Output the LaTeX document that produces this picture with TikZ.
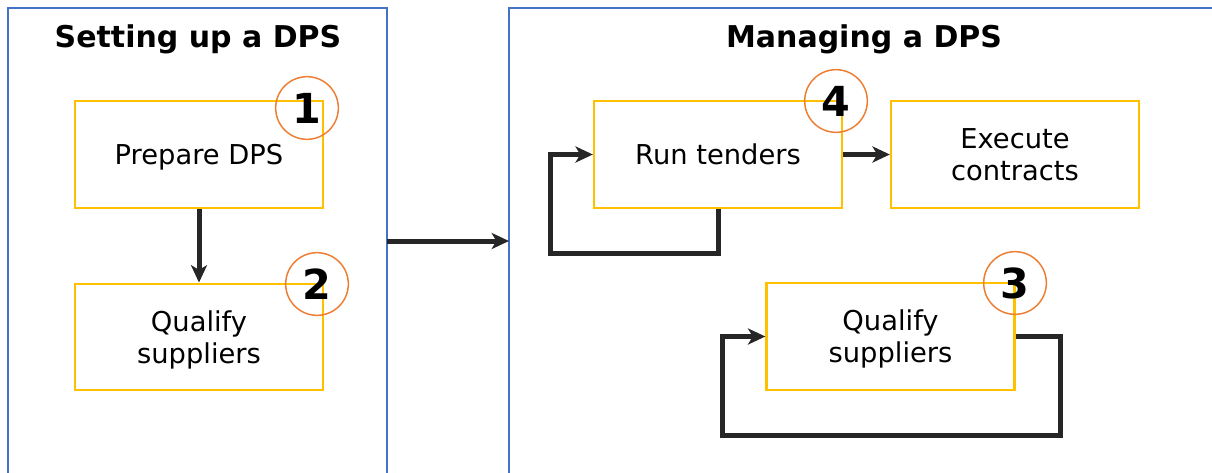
\documentclass[tikz,border=0pt]{standalone}
\usepackage{fontspec}
\setmainfont{DejaVu Sans}
\usetikzlibrary{arrows.meta}
\definecolor{panelblue}{HTML}{4472C4}
\definecolor{boxyellow}{HTML}{FFC000}
\definecolor{badgeorange}{HTML}{ED7D31}
\definecolor{arrowdark}{HTML}{262626}
\begin{document}
\begin{tikzpicture}[x=0.75pt,y=-0.75pt,
  panel/.style={draw=panelblue,line width=1.5pt},
  stepbox/.style={draw=boxyellow,line width=1.7pt,minimum width=186pt,minimum height=80pt,align=center,inner sep=0pt,text depth=0pt,font=\fontsize{20.5}{24}\selectfont},
  badge/.style={circle,draw=badgeorange,line width=1.1pt,minimum size=47pt,inner sep=0pt,font=\bfseries\fontsize{31}{31}\selectfont},
  ptitle/.style={anchor=base,font=\bfseries\fontsize{22.5}{26}\selectfont},
  flow/.style={draw=arrowdark,line width=3.75pt,-{Stealth[length=13pt,width=12pt,inset=3.5pt]}},
  loopline/.style={draw=arrowdark,line width=3.75pt,line join=miter,-{Stealth[length=13pt,width=12pt,inset=3.5pt]}}]
\useasboundingbox (0,0) rectangle (1212,472);
% panels
\draw[panel] (8,490) -- (8,8) -- (387,8) -- (387,490);
\draw[panel] (509,490) -- (509,8) -- (1230,8);
\node[ptitle] (t1) at (198,47) {Setting up a DPS};
\node[ptitle] (t2) at (864,47) {Managing a DPS};
% boxes
\node[stepbox] (prep) at (199,154.5) {Prepare DPS};
\node[stepbox] (qual1) at (199,337) {Qualify\\suppliers};
\node[stepbox] (run) at (718,154.5) {Run tenders};
\node[stepbox] (exec) at (1015,154.5) {Execute\\contracts};
\node[stepbox] (qual2) at (890.5,336.5) {Qualify\\suppliers};
% badges
\node[badge] (b1) at (307,108) {1};
\node[badge] (b2) at (317,284) {2};
\node[badge] (b4) at (836,101) {4};
\node[badge] (b3) at (1015,283) {3};
% connectors
\coordinate (pl) at (387,241);
\coordinate (pr) at (509,241);
\draw[flow] (prep.south) -- (qual1.north);
\draw[flow] (pl) -- (pr);
\draw[flow] (run.east) -- (exec.west);
\coordinate (rl) at (550,253);
\draw[loopline] (run.south) |- (rl) |- (run.west);
\coordinate (qr) at (1060,435);
\coordinate (ql) at (722,435);
\draw[loopline] (qual2.east) -| (qr) -- (ql) |- (qual2.west);
\end{tikzpicture}
\end{document}
